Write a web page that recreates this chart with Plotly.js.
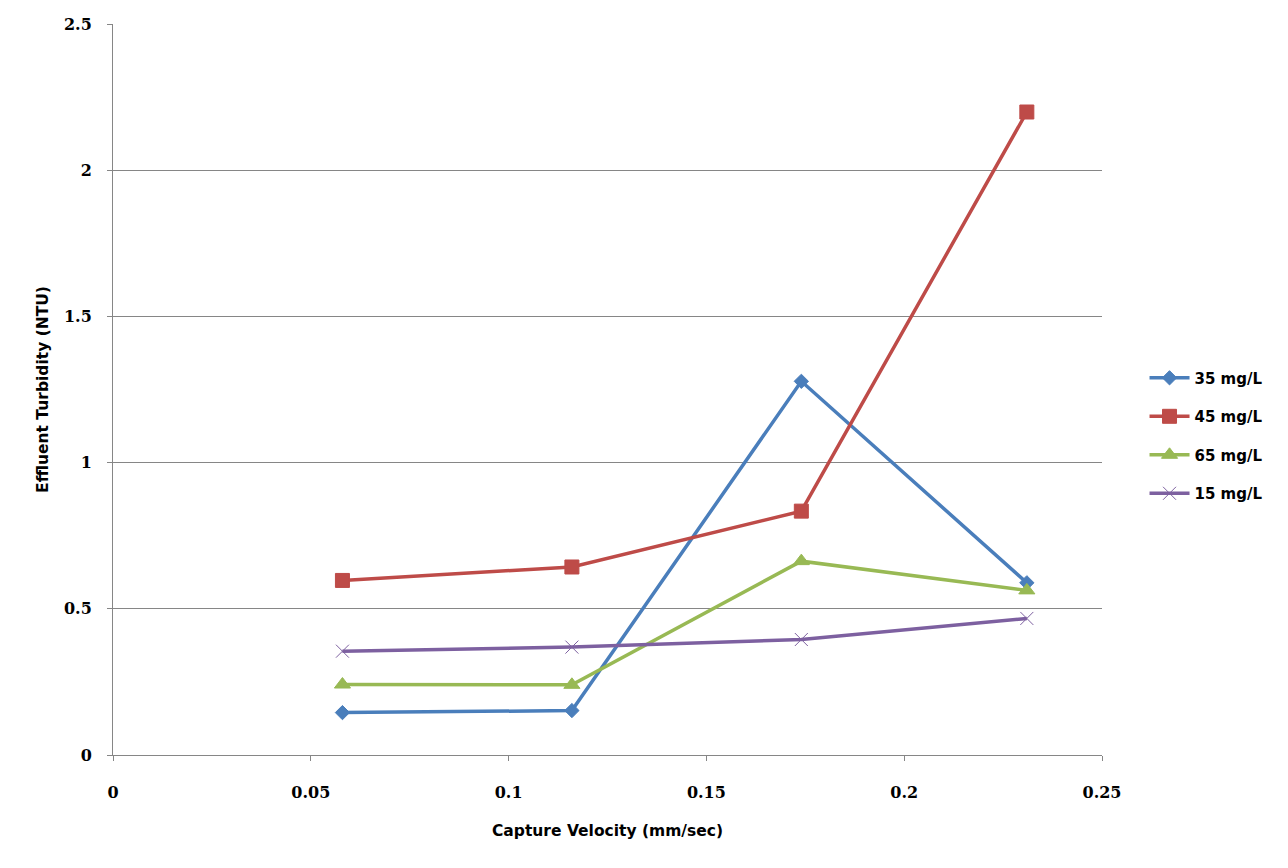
<!DOCTYPE html>
<html>
<head>
<meta charset="utf-8">
<script src="https://cdn.plot.ly/plotly-3.0.1.min.js"></script>
<style>
  html, body { margin: 0; padding: 0; background: #fff; }
  #chart { width: 1288px; height: 868px; }
</style>
</head>
<body>
<div id="chart"></div>
<script>
  var velocity = [0.058, 0.116, 0.174, 0.231];
  var seriesNames = ['35 mg/L', '45 mg/L', '65 mg/L', '15 mg/L'];
  var turb35 = [0.145, 0.152, 1.278, 0.589];
  var turb45 = [0.597, 0.643, 0.834, 2.199];
  var turb65 = [0.241, 0.240, 0.663, 0.563];
  var turb15 = [0.355, 0.369, 0.395, 0.467];
  var xTicks = [0, 0.05, 0.1, 0.15, 0.2, 0.25];
  var xTickText = ['0', '0.05', '0.1', '0.15', '0.2', '0.25'];
  var yTicks = [0, 0.5, 1, 1.5, 2, 2.5];
  var yTickText = ['0', '0.5', '1', '1.5', '2', '2.5'];

  var styles = [
    { color: '#4a7ebb', symbol: 'diamond', size: 11 },
    { color: '#be4b48', symbol: 'square', size: 14 },
    { color: '#98b954', symbol: 'triangle-up', size: 14 },
    { color: '#7d60a0', symbol: 'x-thin-open', size: 13 }
  ];
  var values = [turb35, turb45, turb65, turb15];

  var data = values.map(function(v, i) {
    var s = styles[i];
    return {
      x: velocity, y: v,
      type: 'scatter', mode: 'lines+markers',
      name: seriesNames[i],
      legendgroup: 'g' + i,
      line: { color: s.color, width: 3.5 },
      marker: { symbol: s.symbol, size: s.size, color: s.color,
                line: { color: s.color, width: 1 } }
    };
  });

  var tickFont = { family: '"DejaVu Serif", "Liberation Serif", serif', size: 16, color: '#000', weight: 'bold' };
  var titleFont = { family: '"DejaVu Sans", "Liberation Sans", sans-serif', size: 15.5, color: '#000', weight: 'bold' };

  var layout = {
    width: 1288, height: 868,
    paper_bgcolor: '#fff',
    plot_bgcolor: '#fff',
    margin: { l: 113, r: 186, t: 24, b: 113 },
    showlegend: true,
    xaxis: {
      range: [0, 0.25],
      tickvals: xTicks, ticktext: xTickText,
      showgrid: false, zeroline: false,
      showline: true, linecolor: '#868686', linewidth: 1,
      ticks: 'outside', ticklen: 5, tickcolor: '#868686',
      ticklabelstandoff: 18,
      tickfont: tickFont,
      title: { text: 'Capture Velocity (mm/sec)', font: titleFont, standoff: 23 }
    },
    yaxis: {
      range: [0, 2.5],
      tickvals: yTicks, ticktext: yTickText,
      showgrid: true, gridcolor: '#868686', gridwidth: 1,
      zeroline: false,
      showline: true, linecolor: '#868686', linewidth: 1,
      ticks: 'outside', ticklen: 5, tickcolor: '#868686',
      ticklabelstandoff: 12,
      tickfont: tickFont,
      title: { text: 'Effluent Turbidity (NTU)', font: titleFont, standoff: 11 }
    },
    legend: {
      x: 1.043, xanchor: 'left',
      y: 0.437, yanchor: 'middle',
      bgcolor: 'rgba(0,0,0,0)', borderwidth: 0,
      tracegroupgap: 16,
      itemwidth: 40,
      font: { family: '"DejaVu Sans", "Liberation Sans", sans-serif', size: 15, color: '#000', weight: 'bold' }
    }
  };

  Plotly.newPlot('chart', data, layout, { displayModeBar: false, staticPlot: true });
</script>
</body>
</html>
